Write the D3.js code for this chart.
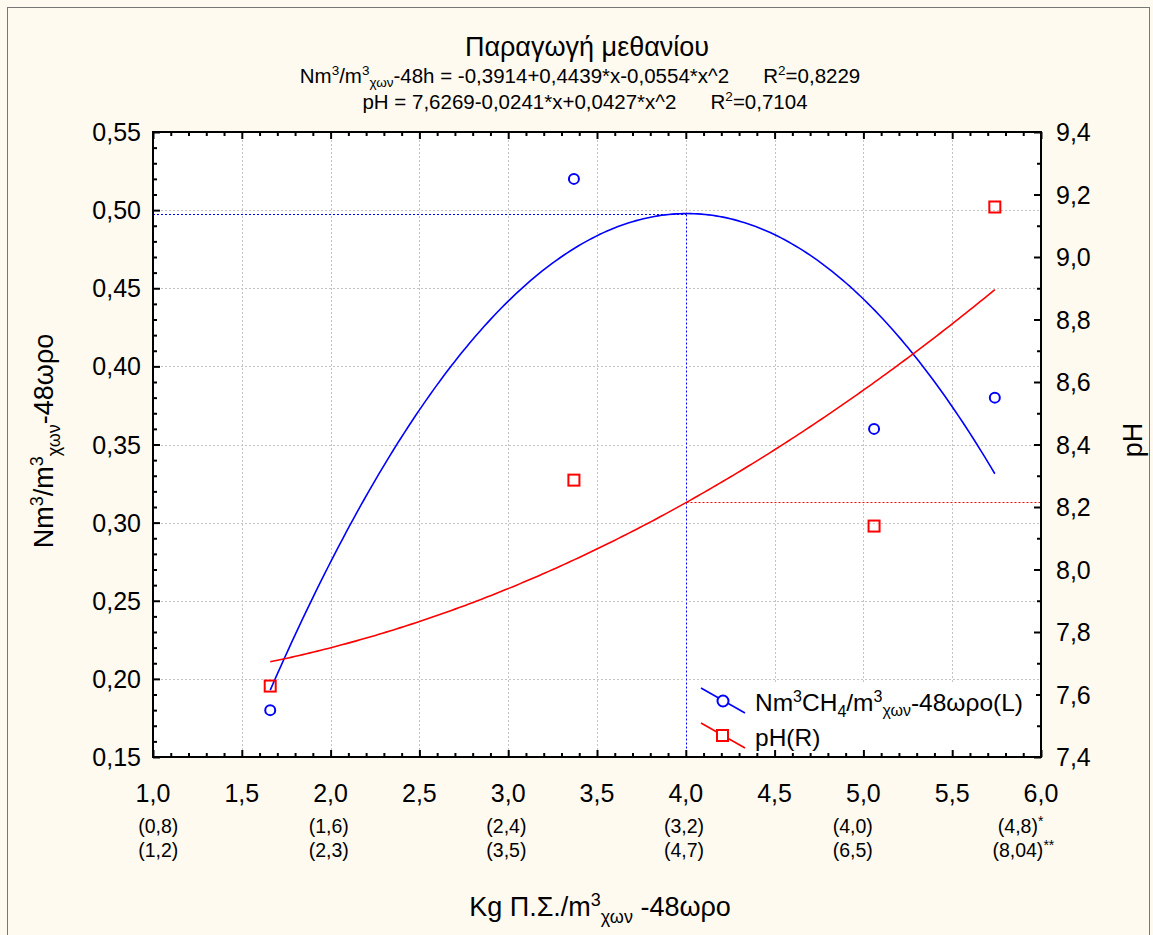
<!DOCTYPE html>
<html>
<head>
<meta charset="utf-8">
<script src="https://cdn.jsdelivr.net/npm/d3@7"></script>
<style>
  html, body { margin: 0; padding: 0; background: #fff; }
  svg { display: block; font-family: "Liberation Sans", Arial, sans-serif; }
</style>
</head>
<body>
<svg id="chart" width="1153" height="935"></svg>
<script>
// Measured samples: organic load (x) vs methane yield (left axis) and pH (right axis)
const loadX      = [1.66, 3.37, 5.06, 5.74];
const methane    = [0.18, 0.52, 0.36, 0.38];
const phValues   = [7.627, 8.286, 8.139, 9.16];

// Quadratic fits shown in the header: c0 + c1*x + c2*x^2
const methaneFit = [-0.3914, 0.4439, -0.0554];
const phFit      = [7.6269, -0.0241, 0.0427];

// Axis ticks
const xTicks      = [1.0, 1.5, 2.0, 2.5, 3.0, 3.5, 4.0, 4.5, 5.0, 5.5, 6.0];
const leftTicks   = [0.15, 0.20, 0.25, 0.30, 0.35, 0.40, 0.45, 0.50, 0.55];
const rightTicks  = [7.4, 7.6, 7.8, 8.0, 8.2, 8.4, 8.6, 8.8, 9.0, 9.2, 9.4];

// Secondary category labels under the x axis
const subLabels1  = ["(0,8)", "(1,6)", "(2,4)", "(3,2)", "(4,0)", "(4,8)"];
const subLabels2  = ["(1,2)", "(2,3)", "(3,5)", "(4,7)", "(6,5)", "(8,04)"];
const subMarks1   = ["", "", "", "", "", "*"];
const subMarks2   = ["", "", "", "", "", "**"];
const subLabelAt  = [1.03, 1.99, 2.99, 3.99, 4.94, 5.87];

const fmt = (v, d) => v.toFixed(d).replace(".", ",");

const svg = d3.select("#chart");
const W = 1153, H = 935;
const plot = { left: 153, right: 1041, top: 132, bottom: 757 };

const x  = d3.scaleLinear().domain([1, 6]).range([plot.left, plot.right]);
const yL = d3.scaleLinear().domain([0.15, 0.55]).range([plot.bottom, plot.top]);
const yR = d3.scaleLinear().domain([7.4, 9.4]).range([plot.bottom, plot.top]);

const BLUE = "#0000ff", RED = "#ff0000";
const crisp = v => Math.round(v) + 0.5;

// Page background and frame
svg.append("rect").attr("x", 0).attr("y", 0).attr("width", W).attr("height", H).attr("fill", "#fffaf0");
svg.append("rect").attr("x", 7.5).attr("y", 7.5).attr("width", 1142).attr("height", 960)
  .attr("fill", "none").attr("stroke", "#777").attr("stroke-width", 1);

// Plot area
svg.append("rect").attr("x", plot.left).attr("y", plot.top)
  .attr("width", plot.right - plot.left).attr("height", plot.bottom - plot.top)
  .attr("fill", "#fff");

// Grid lines
const grid = svg.append("g").attr("stroke", "#c4c4c4").attr("stroke-width", 1).attr("stroke-dasharray", "2,2");
grid.selectAll("line.gx").data(xTicks.slice(1, -1)).join("line")
  .attr("x1", d => crisp(x(d))).attr("x2", d => crisp(x(d)))
  .attr("y1", plot.top).attr("y2", plot.bottom);
grid.selectAll("line.gy").data(leftTicks.slice(1, -1)).join("line")
  .attr("y1", d => crisp(yL(d))).attr("y2", d => crisp(yL(d)))
  .attr("x1", plot.left).attr("x2", plot.right);

// Fitted curves
const poly = (c, v) => c[0] + c[1] * v + c[2] * v * v;
const xs = d3.range(0, 201).map(i => loadX[0] + (loadX[loadX.length - 1] - loadX[0]) * i / 200);

svg.append("clipPath").attr("id", "pclip").append("rect")
  .attr("x", plot.left).attr("y", plot.top).attr("width", plot.right - plot.left).attr("height", plot.bottom - plot.top);

// Guide lines at the methane maximum (white underlay hides the grid beneath)
const xMax = -methaneFit[1] / (2 * methaneFit[2]);
const yMax = poly(methaneFit, xMax);
const phAtMax = poly(phFit, xMax);
const gx = crisp(x(xMax) - 1), gyL = crisp(yL(yMax)), gyR = crisp(yR(phAtMax));
const guideSegs = [
  { c: BLUE, x1: plot.left, x2: gx, y1: gyL, y2: gyL },
  { c: BLUE, x1: gx, x2: gx, y1: gyL, y2: plot.bottom },
  { c: RED,  x1: gx, x2: plot.right, y1: gyR, y2: gyR }
];
const guides = svg.append("g");
guideSegs.forEach(s => {
  guides.append("line").attr("stroke", "#fff").attr("stroke-width", 3)
    .attr("x1", s.x1).attr("x2", s.x2).attr("y1", s.y1).attr("y2", s.y2);
});
guideSegs.forEach(s => {
  guides.append("line").attr("stroke", s.c).attr("stroke-width", 1).attr("stroke-dasharray", "2,2")
    .attr("x1", s.x1).attr("x2", s.x2).attr("y1", s.y1).attr("y2", s.y2);
});

svg.append("path").attr("clip-path", "url(#pclip)")
  .datum(xs).attr("fill", "none").attr("stroke", BLUE).attr("stroke-width", 1.6)
  .attr("d", d3.line().x(d => x(d)).y(d => yL(poly(methaneFit, d))));
svg.append("path").attr("clip-path", "url(#pclip)")
  .datum(xs).attr("fill", "none").attr("stroke", RED).attr("stroke-width", 1.6)
  .attr("d", d3.line().x(d => x(d)).y(d => yR(poly(phFit, d))));

// Data markers
svg.append("g").selectAll("circle").data(loadX).join("circle")
  .attr("cx", d => x(d)).attr("cy", (d, i) => yL(methane[i])).attr("r", 5)
  .attr("fill", "none").attr("stroke", BLUE).attr("stroke-width", 2);
svg.append("g").selectAll("rect").data(loadX).join("rect")
  .attr("x", d => x(d) - 5.5).attr("y", (d, i) => yR(phValues[i]) - 5.5)
  .attr("width", 11).attr("height", 11)
  .attr("fill", "none").attr("stroke", RED).attr("stroke-width", 2);

// Axes (ticks pointing inward)
const minorX = d3.range(10, 61).map(v => v / 10).filter(v => !xTicks.some(t => Math.abs(t - v) < 1e-9));
const minorL = d3.range(15, 56).map(v => v / 100).filter(v => !leftTicks.some(t => Math.abs(t - v) < 1e-9));
const minorR = d3.range(74, 95).map(v => v / 10).filter(v => !rightTicks.some(t => Math.abs(t - v) < 1e-9));

function styleAxis(g) {
  g.selectAll("path.domain").remove();
  g.selectAll("line").attr("stroke", "#000").attr("stroke-width", 2);
}

svg.append("g").attr("transform", `translate(0,${plot.bottom})`)
  .call(d3.axisTop(x).tickValues(xTicks).tickSize(7).tickFormat("")).call(styleAxis);
svg.append("g").attr("transform", `translate(0,${plot.bottom})`)
  .call(d3.axisTop(x).tickValues(minorX).tickSize(4).tickFormat("")).call(styleAxis);
svg.append("g").attr("transform", `translate(0,${plot.top})`)
  .call(d3.axisBottom(x).tickValues(xTicks).tickSize(7).tickFormat("")).call(styleAxis);
svg.append("g").attr("transform", `translate(0,${plot.top})`)
  .call(d3.axisBottom(x).tickValues(minorX).tickSize(4).tickFormat("")).call(styleAxis);

svg.append("g").attr("transform", `translate(${plot.left},0)`)
  .call(d3.axisRight(yL).tickValues(leftTicks).tickSize(7).tickFormat("")).call(styleAxis);
svg.append("g").attr("transform", `translate(${plot.left},0)`)
  .call(d3.axisRight(yL).tickValues(minorL).tickSize(4).tickFormat("")).call(styleAxis);
svg.append("g").attr("transform", `translate(${plot.right},0)`)
  .call(d3.axisLeft(yR).tickValues(rightTicks).tickSize(7).tickFormat("")).call(styleAxis);
svg.append("g").attr("transform", `translate(${plot.right},0)`)
  .call(d3.axisLeft(yR).tickValues(minorR).tickSize(4).tickFormat("")).call(styleAxis);

// Plot frame
svg.append("rect").attr("x", plot.left).attr("y", plot.top)
  .attr("width", plot.right - plot.left).attr("height", plot.bottom - plot.top)
  .attr("fill", "none").attr("stroke", "#000").attr("stroke-width", 2);

// Tick labels
const TICK_FS = 25;
const lbl = svg.append("g").attr("font-size", TICK_FS).attr("fill", "#000");
lbl.selectAll("text.xl").data(xTicks).join("text")
  .attr("x", d => x(d)).attr("y", 802).attr("text-anchor", "middle").text(d => fmt(d, 1));
lbl.selectAll("text.yl").data(leftTicks).join("text")
  .attr("x", 141).attr("y", d => yL(d) + 9).attr("text-anchor", "end").text(d => fmt(d, 2));
lbl.selectAll("text.yr").data(rightTicks).join("text")
  .attr("x", 1056).attr("y", d => yR(d) + 9).attr("text-anchor", "start").text(d => fmt(d, 1));

// Secondary category labels
const SUB_FS = 19.5;
const sub = svg.append("g").attr("font-size", SUB_FS).attr("fill", "#000");
function subRow(labels, marks, yPos) {
  labels.forEach((t, i) => {
    const tmp = sub.append("text").text(t);
    const w = tmp.node().getComputedTextLength();
    tmp.remove();
    const txt = sub.append("text").attr("x", x(subLabelAt[i]) - w / 2).attr("y", yPos).text(t);
    if (marks[i]) txt.append("tspan").attr("dy", -7).attr("font-size", 14).text(marks[i]);
  });
}
subRow(subLabels1, subMarks1, 833);
subRow(subLabels2, subMarks2, 857);

// Title block
const EQ_FS = 20.5, SUP_FS = 13.5;
const eqText = c => c.map((v, i) => {
  const s = fmt(Math.abs(v), 4);
  const term = i === 0 ? "" : (i === 1 ? "*x" : "*x^2");
  return (v < 0 ? "-" : (i === 0 ? "" : "+")) + s + term;
}).join("");
const gap = "\u00a0\u00a0\u00a0\u00a0\u00a0\u00a0";

const title = svg.append("g").attr("fill", "#000").attr("text-anchor", "middle");
title.append("text").attr("x", 587).attr("y", 56).attr("font-size", 27).text("Παραγωγή μεθανίου");

const t2 = title.append("text").attr("x", 580).attr("y", 83).attr("font-size", EQ_FS);
t2.append("tspan").text("Nm");
t2.append("tspan").attr("dy", -8).attr("font-size", SUP_FS).text("3");
t2.append("tspan").attr("dy", 8).text("/m");
t2.append("tspan").attr("dy", -8).attr("font-size", SUP_FS).text("3");
t2.append("tspan").attr("dy", 12).attr("font-size", SUP_FS).text("χων");
t2.append("tspan").attr("dy", -4).text("-48h = " + eqText(methaneFit) + gap + "R");
t2.append("tspan").attr("dy", -8).attr("font-size", SUP_FS).text("2");
t2.append("tspan").attr("dy", 8).text("=0,8229");

const t3 = title.append("text").attr("x", 585).attr("y", 109).attr("font-size", EQ_FS);
t3.append("tspan").text("pH = " + eqText(phFit) + gap + "R");
t3.append("tspan").attr("dy", -8).attr("font-size", SUP_FS).text("2");
t3.append("tspan").attr("dy", 8).text("=0,7104");

// Axis titles
const AX_FS = 27, AX_SUB = 18;
const yTitle = svg.append("text").attr("transform", "translate(53,441) rotate(-90)")
  .attr("text-anchor", "middle").attr("font-size", AX_FS).attr("fill", "#000");
yTitle.append("tspan").text("Nm");
yTitle.append("tspan").attr("dy", -10).attr("font-size", AX_SUB).text("3");
yTitle.append("tspan").attr("dy", 10).text("/m");
yTitle.append("tspan").attr("dy", -10).attr("font-size", AX_SUB).text("3");
yTitle.append("tspan").attr("dy", 17).attr("font-size", AX_SUB).text("χων");
yTitle.append("tspan").attr("dy", -7).text("-48ωρο");

svg.append("text").attr("transform", "translate(1142,440) rotate(-90)")
  .attr("text-anchor", "middle").attr("font-size", AX_FS).attr("fill", "#000").text("pH");

const xTitle = svg.append("text").attr("x", 600).attr("y", 916)
  .attr("text-anchor", "middle").attr("font-size", AX_FS).attr("fill", "#000");
xTitle.append("tspan").text("Kg Π.Σ./m");
xTitle.append("tspan").attr("dy", -10).attr("font-size", AX_SUB).text("3");
xTitle.append("tspan").attr("dy", 17).attr("font-size", AX_SUB).text("χων");
xTitle.append("tspan").attr("dy", -7).text(" -48ωρο");

// Legend
const LEG_FS = 24.5, LEG_SUB = 16;
const legend = svg.append("g");
legend.append("rect").attr("x", 697).attr("y", 682).attr("width", 339).attr("height", 68).attr("fill", "#fff");
const legItems = [
  { color: BLUE, shape: "circle", y: 701 },
  { color: RED, shape: "square", y: 736 }
];
legItems.forEach(it => {
  legend.append("line").attr("x1", 701).attr("x2", 745).attr("y1", it.y - 13).attr("y2", it.y + 12)
    .attr("stroke", it.color).attr("stroke-width", 1.6);
  if (it.shape === "circle") {
    legend.append("circle").attr("cx", 723).attr("cy", it.y).attr("r", 5.5)
      .attr("fill", "#fff").attr("stroke", it.color).attr("stroke-width", 2);
  } else {
    legend.append("rect").attr("x", 717).attr("y", it.y - 6).attr("width", 11).attr("height", 11)
      .attr("fill", "#fff").attr("stroke", it.color).attr("stroke-width", 2);
  }
});
const l1 = legend.append("text").attr("x", 755).attr("y", 711).attr("font-size", LEG_FS).attr("fill", "#000");
l1.append("tspan").text("Nm");
l1.append("tspan").attr("dy", -9).attr("font-size", LEG_SUB).text("3");
l1.append("tspan").attr("dy", 9).text("CH");
l1.append("tspan").attr("dy", 6).attr("font-size", LEG_SUB).text("4");
l1.append("tspan").attr("dy", -6).text("/m");
l1.append("tspan").attr("dy", -9).attr("font-size", LEG_SUB).text("3");
l1.append("tspan").attr("dy", 14).attr("font-size", LEG_SUB).text("χων");
l1.append("tspan").attr("dy", -5).text("-48ωρο(L)");
legend.append("text").attr("x", 755).attr("y", 746).attr("font-size", LEG_FS).attr("fill", "#000").text("pH(R)");
</script>
</body>
</html>
